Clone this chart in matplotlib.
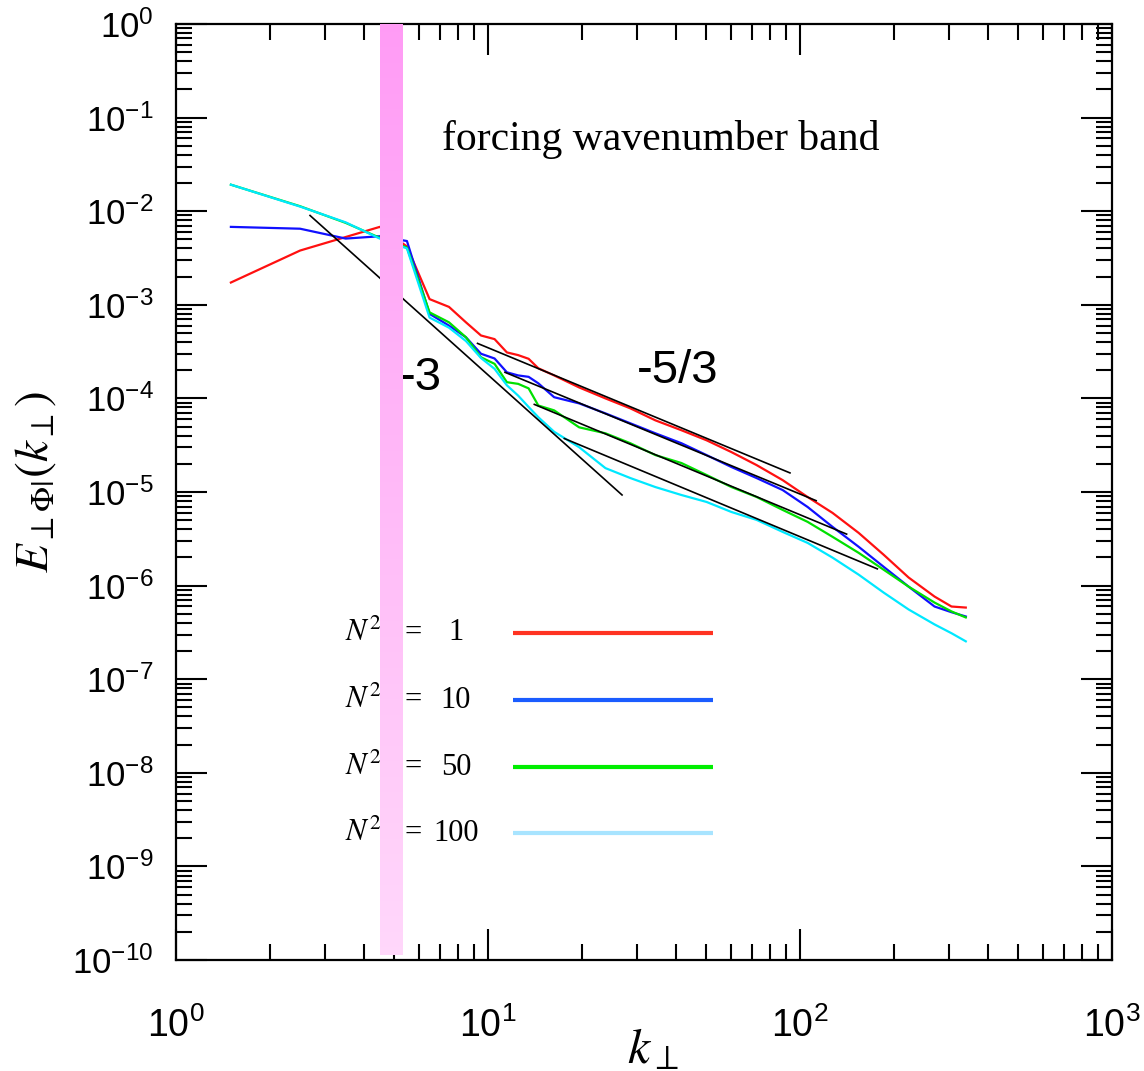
"""Perpendicular energy spectra for several stratification strengths N^2."""

import matplotlib

matplotlib.use('Agg')
import matplotlib.pyplot as plt
import numpy as np
from matplotlib.ticker import LogLocator, NullFormatter

# --- data ------------------------------------------------------------------
k_perp = [1.5, 2.5, 3.5, 4.5, 5.5, 6.5, 7.5, 8.5, 9.5, 10.5, 11.5, 12.5,
          13.5, 14.5, 16.3, 19.6, 23.8, 28.6, 34.4, 41.7, 50.2, 60.3, 72.6,
          88.0, 105.8, 127.2, 154.2, 185.4, 223.0, 270.0, 306.0, 340.0]

E_n1 = [1.73e-3, 3.8e-3, 5.3e-3, 6.8e-3, 4.2e-3, 1.15e-3, 9.5e-4, 6.5e-4,
        4.7e-4, 4.3e-4, 3.1e-4, 2.9e-4, 2.65e-4, 2.1e-4, 1.76e-4, 1.31e-4,
        1.0e-4, 7.83e-5, 5.83e-5, 4.57e-5, 3.57e-5, 2.67e-5, 1.94e-5,
        1.34e-5, 8.85e-6, 5.98e-6, 3.66e-6, 2.14e-6, 1.22e-6, 7.64e-7,
        5.98e-7, 5.83e-7]
E_n10 = [6.8e-3, 6.5e-3, 5.1e-3, 5.4e-3, 4.8e-3, 8.0e-4, 6.0e-4, 4.5e-4,
         3.0e-4, 2.67e-4, 1.9e-4, 1.76e-4, 1.7e-4, 1.45e-4, 1.03e-4, 8.85e-5,
         6.92e-5, 5.42e-5, 4.24e-5, 3.32e-5, 2.48e-5, 1.85e-5, 1.41e-5,
         1.05e-5, 6.92e-6, 4.24e-6, 2.6e-6, 1.59e-6, 9.75e-7, 5.98e-7,
         5.2e-7, 4.68e-7]
E_n50 = [1.92e-2, 1.13e-2, 7.5e-3, 5.2e-3, 4.1e-3, 8.3e-4, 6.5e-4, 4.5e-4,
         2.75e-4, 2.34e-4, 1.49e-4, 1.43e-4, 1.28e-4, 8.4e-5, 7.45e-5,
         4.91e-5, 4.24e-5, 3.32e-5, 2.48e-5, 2.04e-5, 1.52e-5, 1.13e-5,
         8.85e-6, 6.44e-6, 4.8e-6, 3.32e-6, 2.24e-6, 1.48e-6, 9.75e-7,
         6.59e-7, 5.3e-7, 4.57e-7]
E_n100 = [1.92e-2, 1.12e-2, 7.6e-3, 5.1e-3, 4.0e-3, 7.3e-4, 5.7e-4, 4.1e-4,
          2.7e-4, 2.07e-4, 1.38e-4, 1.07e-4, 8.1e-5, 6.3e-5, 4.4e-5, 3.01e-5,
          1.8e-5, 1.41e-5, 1.13e-5, 9.29e-6, 7.83e-6, 6.12e-6, 5.04e-6,
          3.75e-6, 2.86e-6, 1.99e-6, 1.31e-6, 8.43e-7, 5.56e-7, 3.85e-7,
          3.1e-7, 2.54e-7]

n2_labels = ['1', '10', '50', '100']

# reference power laws (end points)
slope3_k = [2.69, 26.9]
slope3_E = [9.0e-3, 9.3e-6]
slope53_k = [[9.26, 92.9], [11.34, 112.7], [14.08, 141.1], [17.57, 177.0]]
slope53_E = [[3.87e-4, 1.60e-5], [1.9e-4, 8.08e-6],
             [8.63e-5, 3.55e-6], [3.73e-5, 1.51e-6]]

force_band = [4.5, 5.35]

# --- styling ----------------------------------------------------------------
plt.rcParams['mathtext.fontset'] = 'stix'
plt.rcParams['font.family'] = ['Liberation Sans', 'DejaVu Sans']

line_colors = ['#ff1010', '#1010ff', '#00e000', '#00e8ff']
legend_colors = ['#ff3322', '#1a5cff', '#00ee00', '#a8e4ff']

fig = plt.figure(figsize=(11.44, 10.71), dpi=100)
ax = fig.add_axes([0.1538, 0.1036, 0.8182, 0.874])

for E, c in zip([E_n1, E_n10, E_n50, E_n100], line_colors):
    ax.plot(k_perp, E, color=c, lw=1.6, zorder=2)

ax.plot(slope3_k, slope3_E, color='black', lw=1.2, zorder=3)
for kk, ee in zip(slope53_k, slope53_E):
    ax.plot(kk, ee, color='black', lw=1.2, zorder=3)

ax.set_xscale('log')
ax.set_yscale('log')
ax.set_xlim(1, 1e3)
ax.set_ylim(1e-10, 1)

# forcing band: vertical pink gradient, drawn over the curves
top = np.array([255, 155, 245]) / 255
bot = np.array([255, 215, 250]) / 255
nstrip = 120
y0 = 0.0053
edges = np.linspace(y0, 1.0, nstrip + 1)
for i in range(nstrip):
    f = (i + 0.5) / nstrip
    col = bot * (1 - f) + top * f
    ax.axvspan(force_band[0], force_band[1], ymin=edges[i], ymax=edges[i + 1] + 0.002,
               color=col, lw=0, antialiased=False, zorder=6)

# annotations
ax.text(0.2842, 0.6218, '-3', transform=ax.transAxes, fontsize=34,
        ha='right', va='center', zorder=4)
ax.text(0.5363, 0.6293, '-5/3', transform=ax.transAxes, fontsize=34,
        ha='center', va='center', zorder=4)
ax.text(0.2842, 0.8654, 'forcing wavenumber band', transform=ax.transAxes,
        fontsize=30, family='Liberation Serif', ha='left', va='baseline',
        zorder=7)

# hand-made legend
rows = [0.3494, 0.2778, 0.2062, 0.1357]
for y, lab, c in zip(rows, n2_labels, legend_colors):
    ax.text(0.1806, y, r'$N^2$', transform=ax.transAxes, fontsize=22,
            ha='left', va='center', zorder=4)
    ax.text(0.2447, y, '=', transform=ax.transAxes, fontsize=22,
            family='Liberation Serif', ha='left', va='center', zorder=4)
    ax.text(0.2991, y, lab, transform=ax.transAxes, fontsize=22,
            family='Liberation Serif', ha='center', va='center', zorder=4)
    ax.plot([0.360, 0.5737], [y, y], transform=ax.transAxes, color=c,
            lw=3, solid_capstyle='butt', zorder=4)

# axes, ticks
for s in ax.spines.values():
    s.set_linewidth(1.6)

ax.xaxis.set_major_locator(LogLocator(base=10, numticks=20))
ax.yaxis.set_major_locator(LogLocator(base=10, numticks=20))
ax.xaxis.set_minor_locator(LogLocator(base=10, subs=np.arange(2, 10), numticks=100))
ax.yaxis.set_minor_locator(LogLocator(base=10, subs=np.arange(2, 10), numticks=100))
ax.xaxis.set_minor_formatter(NullFormatter())
ax.yaxis.set_minor_formatter(NullFormatter())

ax.tick_params(which='both', direction='in', top=True, right=True, width=1.5)
ax.tick_params(which='major', length=22)
ax.tick_params(which='minor', length=11.5)
ax.tick_params(axis='x', which='major', labelsize=27, pad=34)
ax.tick_params(axis='y', which='major', labelsize=25, pad=16)

ax.set_xlabel(r'$k_\perp$', fontsize=36, va='top')
ax.xaxis.set_label_coords(0.51, -0.0716)
ax.set_ylabel(r'$E_{\perp\Phi|}(k_\perp)$', fontsize=34, va='center')
ax.yaxis.set_label_coords(-0.1496, 0.5107)

fig.savefig('out.png', dpi=100)
